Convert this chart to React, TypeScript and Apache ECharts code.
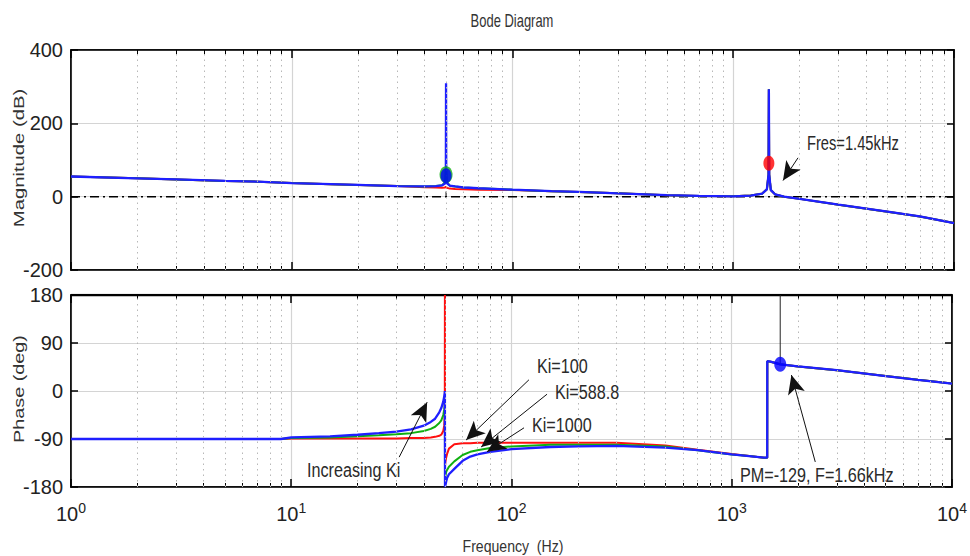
import React, { useEffect, useRef } from "react";
import * as echarts from "echarts";

// ---------- data ----------
const decadeTicks = [1, 10, 100, 1000, 10000];
const minorTicks = [
  2, 3, 4, 5, 6, 7, 8, 9,
  20, 30, 40, 50, 60, 70, 80, 90,
  200, 300, 400, 500, 600, 700, 800, 900,
  2000, 3000, 4000, 5000, 6000, 7000, 8000, 9000,
];
const magTicks = [-200, 0, 200, 400];
const phaseTicks = [-180, -90, 0, 90, 180];

const magFreq = [1, 2, 3, 5, 7, 10, 15, 20, 30, 40, 45, 48, 49.5, 49.9, 50, 50.1, 50.5, 52, 55, 60, 70, 100, 150, 200, 300, 500, 700, 1000, 1200, 1350, 1420, 1445, 1450, 1455, 1480, 1550, 1700, 2000, 3000, 5000, 7000, 10000];
const magBlue = [55, 50, 47, 43, 41, 37, 34, 32, 29, 28, 29, 31, 36, 60, 309, 60, 36, 30, 28, 25, 23, 19, 15, 13, 9, 4, 2, 1, 3, 8, 20, 60, 293, 60, 18, 6, 0, -6, -22, -41, -54, -72];
const magRed = [55, 50, 47, 43, 41, 37, 34, 32, 29, 26, 25, 24, 25, 27, 28, 26, 24, 22, 21, 20, 19, 18, 15, 13, 9, 4, 2, 1, 3, 8, 20, 60, 293, 60, 18, 6, 0, -6, -22, -41, -54, -72];
const magGreen = [55, 50, 47, 43, 41, 37, 34, 32, 29, 28, 29, 31, 40, 70, 80, 70, 40, 30, 28, 25, 23, 19, 15, 13, 9, 4, 2, 1, 3, 8, 20, 60, 293, 60, 18, 6, 0, -6, -22, -41, -54, -72];

const phaseFreq = [1, 5, 9, 10, 15, 20, 25, 30, 35, 40, 43, 45, 47, 48, 49, 49.5, 49.8, 49.85, 49.9, 50, 50.1, 50.5, 51, 52, 55, 60, 65, 70, 80, 100, 150, 200, 300, 500, 700, 1000, 1200, 1400, 1449, 1450, 1500, 1660, 2000, 3000, 5000, 7000, 10000];
const phaseBlue = [-90, -90, -90, -87, -85, -82, -79, -76, -72, -65, -58, -52, -40, -32, -20, -10, -3, 0, -180, -179, -177, -170, -163, -156, -146, -131, -123, -119, -114, -109, -105, -104, -103, -106, -111, -119, -122, -125, -125, 56, 55, 50, 46, 39, 28, 21, 14];
const phaseGreen = [-90, -90, -90, -88, -87, -85, -83, -81, -79, -75, -71, -67, -60, -55, -45, -35, -25, -20, -165, -163, -160, -152, -148, -142, -132, -120, -114, -111, -107, -104, -101, -101, -101, -104, -111, -119, -122, -125, -125, 56, 55, 50, 46, 39, 28, 21, 14];
const phaseRed = [-90, -90, -90, -89, -89, -89, -89, -89, -88, -88, -87, -86, -84, -82, -75, -65, -40, 180, -140, -137, -133, -125, -118, -108, -100, -98, -98, -97, -97, -97, -97, -97, -97, -102, -110, -118, -122, -125, -125, 56, 55, 50, 46, 39, 28, 21, 14];

// markers
const resBlue = [50, 57];
const resGreen = [50, 60];
const resRed = [1450, 91];
const pmPoint = [1660, 50];

// annotation arrows [from, to] in data coordinates
const magArrows = [[[1965, 106], [1680, 44]]];
const phaseArrows = [
  [[30.9, -124], [41.4, -21]],
  [[120, 21], [62.2, -92]],
  [[145, -6], [72.8, -105]],
  [[114, -69], [77.4, -114]],
  [[2395, -133], [1866, 30]],
];

// ---------- styling ----------
const FONT_AXIS = '"Liberation Sans Narrow", "Liberation Sans", Arial, sans-serif';
const FONT_TEXT = '"Liberation Sans", Arial, sans-serif';
const BLUE = "#1f1fff";
const RED = "#ff1010";
const GREEN = "#10b010";

const zip = (f: number[], v: number[]) => f.map((x, i) => [x, v[i]]);

const xAxisMajor = (gridIndex: number, position: string, showLabel: boolean, split: boolean) => ({
  type: "log",
  logBase: 10,
  min: decadeTicks[0],
  max: decadeTicks[decadeTicks.length - 1],
  gridIndex,
  position,
  axisLine: { show: true, onZero: false, lineStyle: { color: "#000", width: 1.5 } },
  axisTick: { show: true, inside: true, length: 8, customValues: decadeTicks, lineStyle: { color: "#000", width: 1.5 } },
  axisLabel: {
    show: showLabel,
    customValues: decadeTicks,
    margin: 14,
    formatter: (v: number) => `{b|10}{s|${Math.round(Math.log10(v))}}`,
    rich: {
      b: { fontSize: 20, fontFamily: FONT_AXIS, color: "#222" },
      s: { fontSize: 14, fontFamily: FONT_AXIS, color: "#222", padding: [0, 0, 11, 0] },
    },
  },
  splitLine: { show: split, lineStyle: { color: "#d4d4d4", width: 1.2 } },
});

const xAxisMinor = (gridIndex: number, position: string) => ({
  type: "log",
  logBase: 10,
  min: decadeTicks[0],
  max: decadeTicks[decadeTicks.length - 1],
  gridIndex,
  position,
  axisLine: { show: false, onZero: false },
  axisTick: { show: true, inside: true, length: 4, customValues: minorTicks, lineStyle: { color: "#000", width: 1 } },
  axisLabel: { show: false },
  splitLine: { show: false },
});

const yAxisDef = (gridIndex: number, ticks: number[], position: string, showLabel: boolean) => ({
  type: "value",
  gridIndex,
  position,
  min: ticks[0],
  max: ticks[ticks.length - 1],
  interval: ticks[1] - ticks[0],
  axisLine: { show: true, onZero: false, lineStyle: { color: "#000", width: 1.5 } },
  axisTick: { show: true, inside: true, length: 7, lineStyle: { color: "#000", width: 1.5 } },
  axisLabel: { show: showLabel, fontSize: 20, fontFamily: FONT_AXIS, color: "#222", margin: 8 },
  splitLine: { show: showLabel, lineStyle: { color: "#d4d4d4", width: 1.2 } },
});

const lineSeries = (name: string, xi: number, yi: number, data: number[][], color: string, width: number, z = 3) => ({
  name,
  type: "line",
  xAxisIndex: xi,
  yAxisIndex: yi,
  data,
  showSymbol: false,
  symbol: "none",
  lineStyle: { color, width },
  z,
  silent: true,
});

const arrowMarkLine = (arrows: number[][][]) => ({
  silent: true,
  symbol: ["none", "arrow"],
  symbolSize: [13, 19],
  lineStyle: { color: "#111", width: 1, type: "solid" },
  itemStyle: { color: "#000" },
  label: { show: false },
  emphasis: { disabled: true },
  data: arrows.map(([a, b]) => [{ coord: a }, { coord: b }]),
});

const minorGridSeries = (xi: number, yi: number) => ({
  type: "line",
  xAxisIndex: xi,
  yAxisIndex: yi,
  data: [],
  silent: true,
  z: 1,
  markLine: {
    silent: true,
    symbol: ["none", "none"],
    label: { show: false },
    lineStyle: { color: "#b8b8b8", width: 1, type: [1.5, 4] },
    emphasis: { disabled: true },
    data: minorTicks.map((v) => ({ xAxis: v })),
  },
});

const annText = (text: string, x: number, y: number, size = 21, sx = 0.77) => ({
  type: "text",
  x,
  y,
  scaleX: sx,
  silent: true,
  z: 100,
  style: { text, fontSize: size, fontFamily: FONT_TEXT, fill: "#2a2a2a", align: "left", verticalAlign: "middle" },
});

export default function App() {
  const ref = useRef<HTMLDivElement>(null);
  useEffect(() => {
    if (!ref.current) return;
    const chart = echarts.init(ref.current, null, { renderer: "svg" });
    const option: any = {
      animation: false,
      backgroundColor: "#fff",
      grid: [
        { left: 71, top: 50, width: 883, height: 220, show: true, borderColor: "#000", borderWidth: 1.5, backgroundColor: "#fff" },
        { left: 71, top: 295, width: 883, height: 192, show: true, borderColor: "#000", borderWidth: 1.5, backgroundColor: "#fff" },
      ],
      xAxis: [
        xAxisMajor(0, "bottom", false, true),
        xAxisMinor(0, "bottom"),
        xAxisMajor(0, "top", false, false),
        xAxisMinor(0, "top"),
        xAxisMajor(1, "bottom", true, true),
        xAxisMinor(1, "bottom"),
        xAxisMajor(1, "top", false, false),
        xAxisMinor(1, "top"),
      ],
      yAxis: [
        yAxisDef(0, magTicks, "left", true),
        yAxisDef(0, magTicks, "right", false),
        yAxisDef(1, phaseTicks, "left", true),
        yAxisDef(1, phaseTicks, "right", false),
      ],
      series: [
        minorGridSeries(0, 0),
        minorGridSeries(4, 2),
        // magnitude
        {
          ...lineSeries("zero", 0, 0, [[decadeTicks[0], 0], [decadeTicks[4], 0]], "#000", 1.5, 2),
          lineStyle: { color: "#000", width: 1.5, type: [9, 4, 2, 4] },
          markLine: arrowMarkLine(magArrows),
        },
        lineSeries("stub", 0, 0, [[50, 0], [50, 14]], "#000", 1, 2),
        lineSeries("magRed", 0, 0, zip(magFreq, magRed), RED, 2),
        lineSeries("magGreen", 0, 0, zip(magFreq, magGreen), GREEN, 2),
        lineSeries("magBlue", 0, 0, zip(magFreq, magBlue), BLUE, 2.3),
        {
          type: "scatter", xAxisIndex: 0, yAxisIndex: 0, silent: true, z: 6,
          data: [
            { value: resGreen, symbolSize: [13, 17], itemStyle: { color: GREEN } },
            { value: resBlue, symbolSize: [11, 15], itemStyle: { color: "#0000ff" } },
            { value: resRed, symbolSize: [11, 15], itemStyle: { color: "#ff0000" } },
          ],
        },
        // phase
        {
          ...lineSeries("top180", 4, 2, [[decadeTicks[0], 180], [decadeTicks[4], 180]], "#000", 2.5, 2),
          markLine: arrowMarkLine(phaseArrows),
        },
        lineSeries("pmStem", 4, 2, [[pmPoint[0], pmPoint[1]], [pmPoint[0], 180]], "#222", 1, 2),
        lineSeries("phRed", 4, 2, zip(phaseFreq, phaseRed), RED, 2),
        lineSeries("phGreen", 4, 2, zip(phaseFreq, phaseGreen), GREEN, 2),
        lineSeries("phBlue", 4, 2, zip(phaseFreq, phaseBlue), BLUE, 2.3),
        {
          type: "scatter", xAxisIndex: 4, yAxisIndex: 2, silent: true, z: 6,
          data: [{ value: pmPoint, symbolSize: [12, 15], itemStyle: { color: "#0000ff" } }],
        },
      ],
      graphic: [
        {
          type: "text", x: 512, y: 21, scaleX: 0.72, silent: true,
          style: { text: "Bode Diagram", fontSize: 18, fontFamily: FONT_TEXT, fill: "#333", align: "center", verticalAlign: "middle" },
        },
        {
          type: "text", x: 19, y: 158, rotation: Math.PI / 2, scaleX: 1.35, silent: true,
          style: { text: "Magnitude (dB)", fontSize: 15, fontFamily: FONT_TEXT, fill: "#333", align: "center", verticalAlign: "middle" },
        },
        {
          type: "text", x: 19, y: 389, rotation: Math.PI / 2, scaleX: 1.32, silent: true,
          style: { text: "Phase (deg)", fontSize: 15, fontFamily: FONT_TEXT, fill: "#333", align: "center", verticalAlign: "middle" },
        },
        {
          type: "text", x: 513, y: 546, scaleX: 0.88, silent: true,
          style: { text: "Frequency  (Hz)", fontSize: 16, fontFamily: FONT_TEXT, fill: "#333", align: "center", verticalAlign: "middle" },
        },
        annText("Fres=1.45kHz", 807, 143, 21, 0.7),
        annText("Ki=100", 537, 366),
        annText("Ki=588.8", 555, 392),
        annText("Ki=1000", 532, 425),
        annText("Increasing Ki", 307, 470),
        annText("PM=-129, F=1.66kHz", 740, 475),
      ],
    };
    chart.setOption(option);
    return () => chart.dispose();
  }, []);
  return (
    <div
      ref={ref}
      style={{ position: "fixed", left: 0, top: 0, width: 970, height: 556, background: "#fff" }}
    />
  );
}
